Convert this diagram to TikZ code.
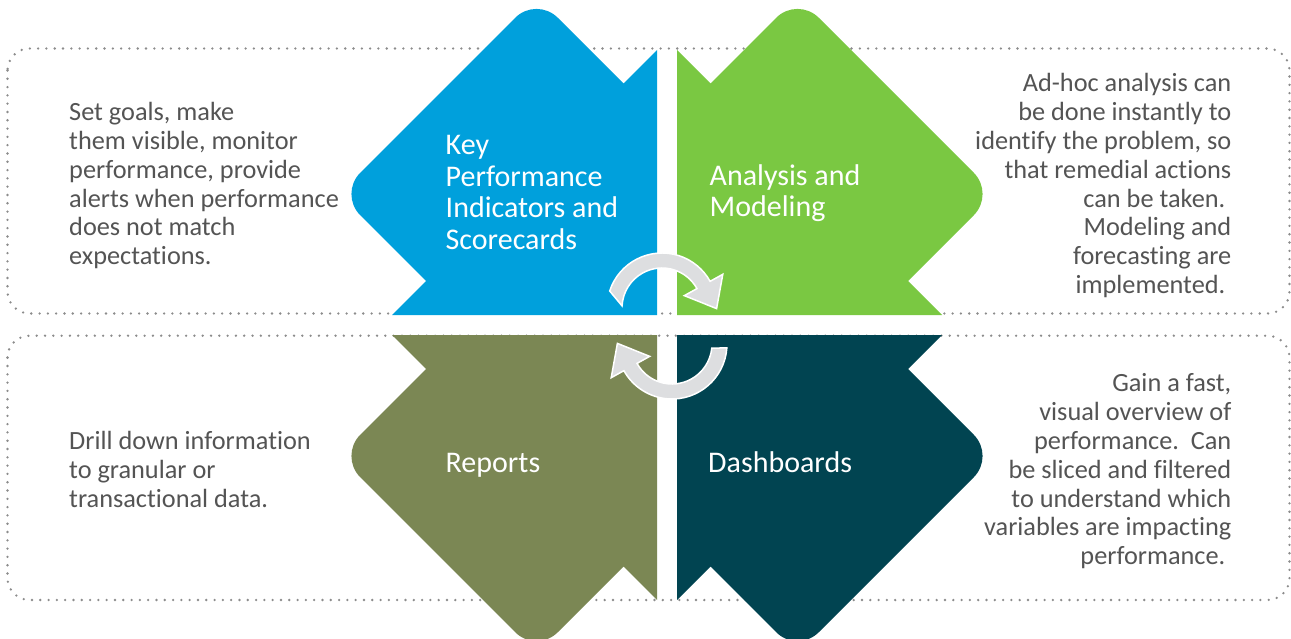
\documentclass[tikz,border=0pt]{standalone}
\usepackage{fontspec}
\setmainfont{Carlito}[Ligatures={NoCommon}]
\definecolor{kpiblue}{RGB}{0,160,220}
\definecolor{anagreen}{RGB}{122,200,66}
\definecolor{repolive}{RGB}{123,135,84}
\definecolor{dashteal}{RGB}{1,68,81}
\definecolor{textgray}{RGB}{84,84,84}
\definecolor{dotgray}{RGB}{140,140,140}
\definecolor{arrowgray}{RGB}{221,222,224}
\newcommand{\cycarrowpath}[2]{%
  \filldraw[arrowband] (#1:55) arc[start angle=#1,end angle=29,radius=55]
    -- (29:69.5) -- (54.6,-0.6) -- (29:25.5) -- (29:40)
    arc[start angle=29,end angle=#2,radius=40] -- cycle;}
\tikzset{
  leaf/.pic={\fill[pic actions] (-306.79,-109.79) .. controls (-318.5,-121.5) and (-318.5,-140.5) .. (-306.79,-152.21)
     -- (-151.71,-307.29) .. controls (-140,-319) and (-121,-319) .. (-109.29,-307.29)
     -- (-43.5,-241.5) -- (-10,-275) -- (-10,-10) -- (-275,-10) -- (-241,-44) -- cycle;},
  arrowband/.style={draw=white, line width=1.5pt, fill=arrowgray, line join=miter},
  dotbox/.style={draw=dotgray, line width=2.6pt, line cap=round, dash pattern=on 0pt off 8.3pt, rounded corners=22},
  body/.style={font=\fontsize{26.3}{28.8}\selectfont, text=textgray, inner sep=0pt},
  lab/.style={font=\fontsize{30}{31.7}\selectfont, text=white, inner sep=0pt, align=left}
}
\begin{document}
\begin{tikzpicture}[x=1pt,y=-1pt]
\fill[white] (0,0) rectangle (1291,639);
\useasboundingbox (0,0) rectangle (1291,639);
% dotted frames
\draw[dotbox] (7.5,48.5) rectangle (1289.5,313.5);
\draw[dotbox] (7.5,335.7) rectangle (1289.5,600);
% quadrant shapes
\pic[fill=kpiblue] at (667,325) {leaf};
\pic[fill=anagreen, xscale=-1] at (667,325) {leaf};
\pic[fill=repolive, yscale=-1] at (667,325) {leaf};
\pic[fill=dashteal, xscale=-1, yscale=-1] at (667,325) {leaf};
% cycle arrows
\begin{scope}[shift={(662,308)}, yscale=-1]
  \cycarrowpath{162}{177}
\end{scope}
\begin{scope}[shift={(672,344)}, xscale=-1]
  \cycarrowpath{176}{174}
\end{scope}
% labels
\node[lab, anchor=north west] (kpi) at (445.5,132.1) {\strut Key\\Performance\\Indicators and\\Scorecards};
\node[lab, anchor=north west] (ana) at (709.5,162.8) {\strut Analysis and\\Modeling};
\node[lab, anchor=base west] (rep) at (445.5,472.3) {Reports};
\node[lab, anchor=base west] (dsh) at (708,472.3) {Dashboards};
% descriptions
\node[body, anchor=north west, align=left] (kpitxt) at (69,100.3)
  {\strut Set goals, make\\them visible, monitor\\performance, provide\\alerts when performance\\does not match\\expectations.};
\node[body, anchor=north east, align=right] (anatxt) at (1231.5,71.5)
  {\strut Ad-hoc analysis can\\be done instantly to\\identify the problem, so\\that remedial actions\\can be taken.\kern6pt\\Modeling and\\forecasting are\\implemented.\kern6pt};
\node[body, anchor=north west, align=left] (reptxt) at (69,429.4)
  {\strut Drill down information\\to granular or\\transactional data.};
\node[body, anchor=north east, align=right] (dshtxt) at (1231.5,371.5)
  {\strut Gain a fast,\\visual overview of\\performance.\ \ Can\\be sliced and filtered\\to understand which\\variables are impacting\\performance.\kern6pt};
\end{tikzpicture}
\end{document}
